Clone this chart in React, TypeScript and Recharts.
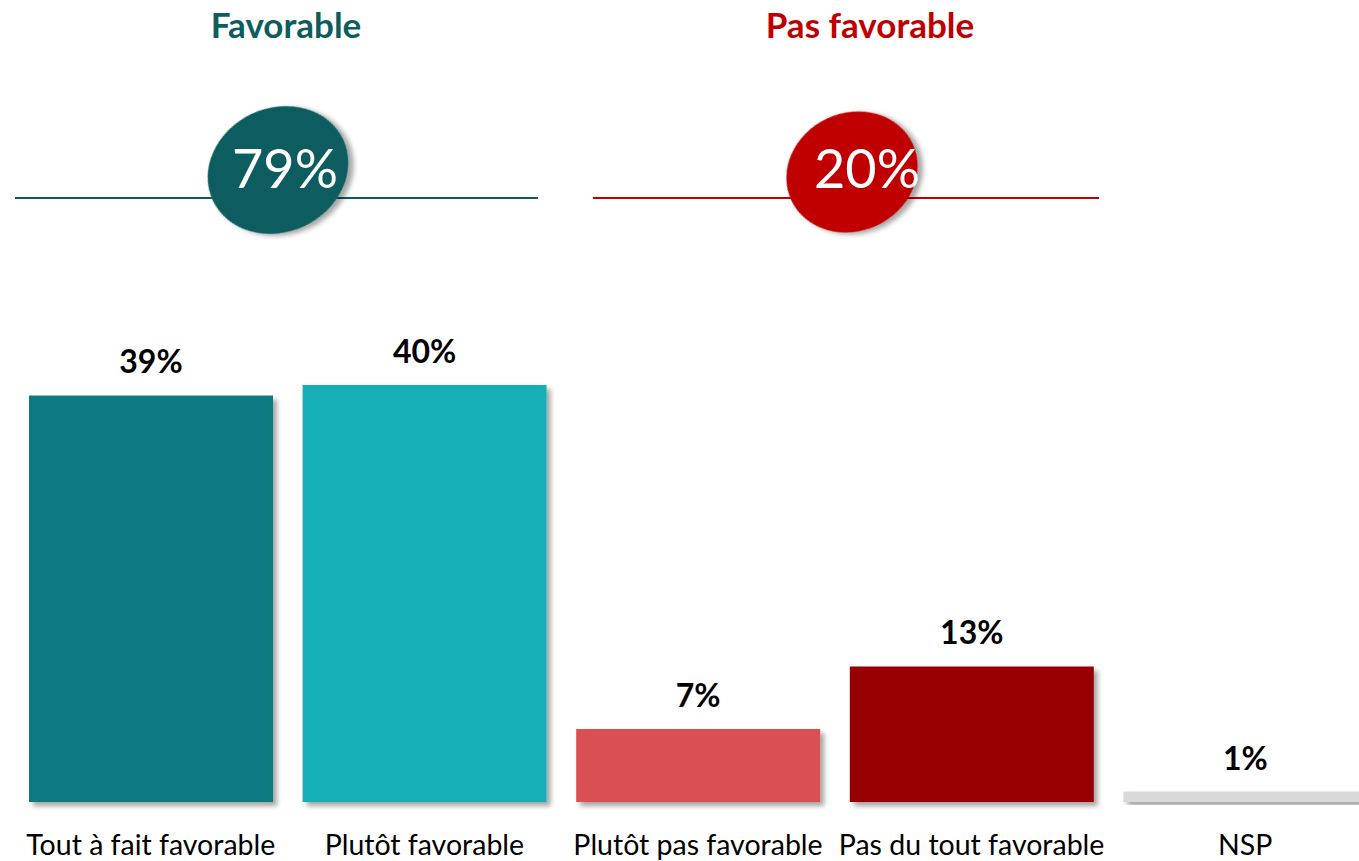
import { Bar, BarChart, Cell, LabelList, XAxis, YAxis } from "recharts";

const categories = [
  "Tout à fait favorable",
  "Plutôt favorable",
  "Plutôt pas favorable",
  "Pas du tout favorable",
  "NSP",
];
const values = [39, 40, 7, 13, 1];
const barColors = ["#107980", "#14AFB8", "#D94F52", "#960000", "#D9D9D9"];

const groupTitles = ["Favorable", "Pas favorable"];
const groupColors = ["#0E5C5E", "#C00000"];
// indices of the categories summed into each group bubble
const groupMembers = [
  [0, 1],
  [2, 3],
];

const data = categories.map((name, i) => ({ name, value: values[i] }));
const groupTotals = groupMembers.map((idx) => idx.reduce((s, i) => s + values[i], 0));

const FONT = "Lato, 'Open Sans', sans-serif";

function Header() {
  const groups = [
    { title: groupTitles[0], color: groupColors[0], total: groupTotals[0], tx: 286, line: [15, 538], cx: 278, cy: 170, rx: 72, ry: 62, vx: 285 },
    { title: groupTitles[1], color: groupColors[1], total: groupTotals[1], tx: 870, line: [593, 1099], cx: 852, cy: 172, rx: 67, ry: 59, vx: 867 },
  ];
  return (
    <svg width={1359} height={260} style={{ position: "absolute", left: 0, top: 0 }}>
      {groups.map((g) => (
        <g key={g.title}>
          <text x={g.tx} y={38} textAnchor="middle" fontFamily={FONT} fontWeight={700} fontSize={35} fill={g.color}>
            {g.title}
          </text>
          <line x1={g.line[0]} x2={g.line[1]} y1={198} y2={198} stroke={g.color} strokeWidth={2} />
          <ellipse
            cx={g.cx}
            cy={g.cy}
            rx={g.rx}
            ry={g.ry}
            fill={g.color}
            transform={`rotate(-25 ${g.cx} ${g.cy})`}
            filter="url(#shadow)"
          />
          <text x={g.vx} y={188} textAnchor="middle" fontFamily={FONT} fontSize={54} fill="#fff">
            {g.total}%
          </text>
        </g>
      ))}
    </svg>
  );
}

export default function App() {
  return (
    <div
      style={{
        position: "absolute",
        left: 0,
        top: 0,
        width: 1359,
        height: 861,
        overflow: "hidden",
        background: "#fff",
      }}
    >
      <svg width={0} height={0} style={{ position: "absolute" }}>
        <defs>
          <filter id="shadow" x="-10%" y="-10%" width="130%" height="130%">
            <feDropShadow dx={4} dy={4} stdDeviation={2.5} floodColor="#000" floodOpacity={0.35} />
          </filter>
        </defs>
      </svg>
      <Header />
      <div style={{ position: "absolute", left: 0, top: 0 }}>
        <BarChart
          width={1382}
          height={861}
          data={data}
          margin={{ top: 385, right: 0, left: 14, bottom: 0 }}
        >
          <XAxis
            dataKey="name"
            axisLine={false}
            tickLine={false}
            interval={0}
            height={59}
            tickMargin={27}
            tick={{ fill: "#000", fontSize: 28.5, fontFamily: FONT }}
          />
          <YAxis hide domain={[0, 40]} />
          <Bar dataKey="value" barSize={244} isAnimationActive={false}>
            {data.map((_, i) => (
              <Cell key={i} fill={barColors[i]} filter="url(#shadow)" />
            ))}
            <LabelList
              dataKey="value"
              position="top"
              offset={22}
              formatter={(v: number) => `${v}%`}
              style={{ fill: "#000", fontSize: 32, fontWeight: 700, fontFamily: FONT }}
            />
          </Bar>
        </BarChart>
      </div>
    </div>
  );
}
